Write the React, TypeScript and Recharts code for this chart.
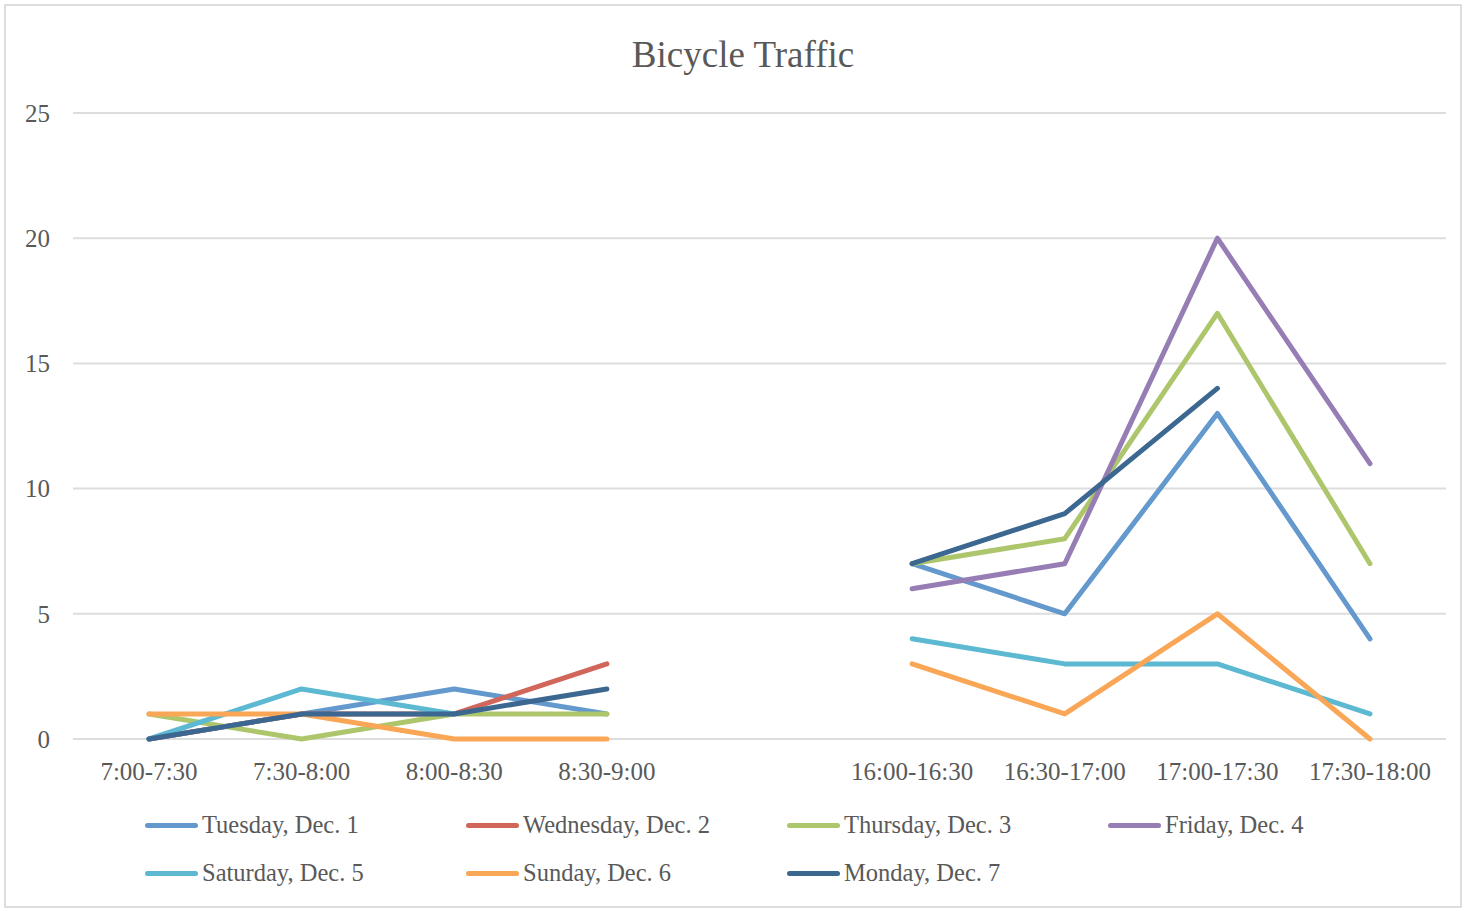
import React from 'react'
import { LineChart, Line, XAxis, YAxis, CartesianGrid, Legend } from 'recharts'

const slots = ['7:00-7:30', '7:30-8:00', '8:00-8:30', '8:30-9:00', '', '16:00-16:30', '16:30-17:00', '17:00-17:30', '17:30-18:00']

const tuesday = [0, 1, 2, 1, null, 7, 5, 13, 4]
const wednesday = [0, 1, 1, 3, null, null, null, null, null]
const thursday = [1, 0, 1, 1, null, 7, 8, 17, 7]
const friday = [null, null, null, null, null, 6, 7, 20, 11]
const saturday = [0, 2, 1, null, null, 4, 3, 3, 1]
const sunday = [1, 1, 0, 0, null, 3, 1, 5, 0]
const monday = [0, 1, 1, 2, null, 7, 9, 14, null]

const yTicks = [0, 5, 10, 15, 20, 25]

const series = [
  { key: 'tue', name: 'Tuesday, Dec. 1', values: tuesday, color: '#6399CD' },
  { key: 'wed', name: 'Wednesday, Dec. 2', values: wednesday, color: '#D1665B' },
  { key: 'thu', name: 'Thursday, Dec. 3', values: thursday, color: '#ADC66C' },
  { key: 'fri', name: 'Friday, Dec. 4', values: friday, color: '#967EB4' },
  { key: 'sat', name: 'Saturday, Dec. 5', values: saturday, color: '#5DB9D2' },
  { key: 'sun', name: 'Sunday, Dec. 6', values: sunday, color: '#F9A656' },
  { key: 'mon', name: 'Monday, Dec. 7', values: monday, color: '#3B6790' },
]

const data = slots.map((slot, i) => {
  const row: any = { slot }
  series.forEach(s => { row[s.key] = s.values[i] })
  return row
})

const FONT = '"Liberation Serif", serif'
const TEXT = '#595959'
const GRID = '#DDDDDD'

const LegendBox = () => (
  <div style={{ position: 'relative', width: 1454, height: 100 }}>
    {series.map((s, i) => (
      <div key={s.key} style={{
        position: 'absolute', left: 139 + (i % 4) * 321, top: Math.floor(i / 4) * 48, height: 38,
        display: 'flex', alignItems: 'center', fontFamily: FONT, fontSize: 24.5, color: TEXT, whiteSpace: 'nowrap',
      }}>
        <span style={{ display: 'inline-block', width: 53, height: 5, borderRadius: 3, background: s.color, marginRight: 4 }} />
        {s.name}
      </div>
    ))}
  </div>
)

export default function App() {
  return (
    <div style={{ position: 'absolute', left: 4, top: 4, width: 1454, height: 900, border: `2px solid ${GRID}`, background: '#fff', fontFamily: FONT }}>
      <div style={{ position: 'absolute', left: 437, top: 30, width: 600, textAlign: 'center', fontSize: 37, lineHeight: '37px', color: TEXT }}>
        Bicycle Traffic
      </div>
      <LineChart width={1454} height={900} data={data} margin={{ top: 107, right: 14, left: 20, bottom: 0 }}>
        <CartesianGrid vertical={false} stroke={GRID} strokeWidth={2} />
        <XAxis dataKey="slot" height={67} padding={{ left: 76, right: 76 }} interval={0}
          axisLine={false} tickLine={false} tickMargin={17}
          tick={{ fill: TEXT, fontSize: 25, fontFamily: FONT }} />
        <YAxis width={47} domain={[0, 25]} ticks={yTicks} axisLine={false} tickLine={false} tickMargin={17}
          tick={{ fill: TEXT, fontSize: 25, fontFamily: FONT }} />
        <Legend verticalAlign="bottom" content={<LegendBox />} wrapperStyle={{ left: 0, bottom: 0, width: 1454, height: 100 }} />
        {series.map(s => (
          <Line key={s.key} dataKey={s.key} name={s.name} stroke={s.color} strokeWidth={5}
            strokeLinecap="round" strokeLinejoin="round" dot={false} activeDot={false}
            connectNulls={false} isAnimationActive={false} />
        ))}
      </LineChart>
    </div>
  )
}
